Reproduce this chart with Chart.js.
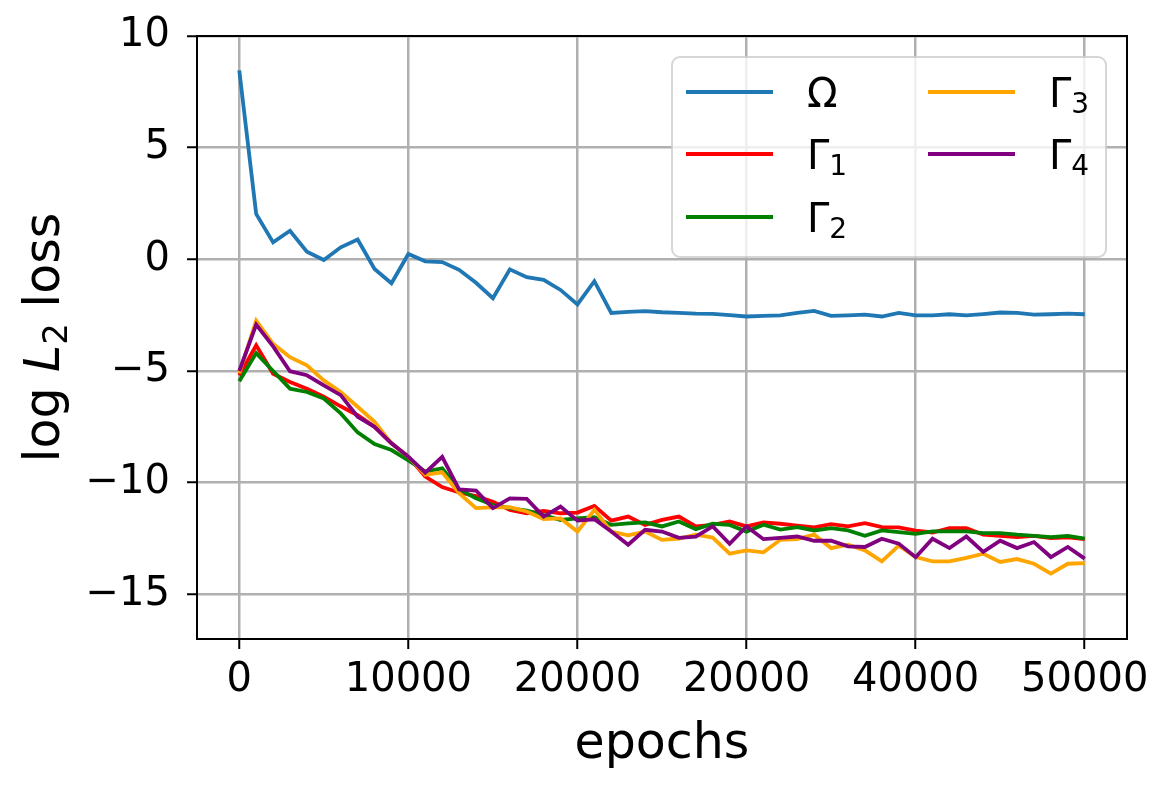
<!DOCTYPE html>
<html>
<head>
<meta charset="utf-8">
<script src="https://cdn.jsdelivr.net/npm/chart.js@4.4.1/dist/chart.umd.min.js"></script>
<style>
  html, body { margin: 0; padding: 0; background: #fff; }
  #wrap { width: 1170px; height: 786px; }
</style>
</head>
<body>
<div id="wrap"><canvas id="lossChart" width="1170" height="786"></canvas></div>
<script>
// ---- data ----
const epochs = [
  0, 1000, 2000, 3000, 4000, 5000, 6000, 7000, 8000, 9000,
  10000, 11000, 12000, 13000, 14000, 15000, 16000, 17000, 18000, 19000,
  20000, 21000, 22000, 23000, 24000, 25000, 26000, 27000, 28000, 29000,
  30000, 31000, 32000, 33000, 34000, 35000, 36000, 37000, 38000, 39000,
  40000, 41000, 42000, 43000, 44000, 45000, 46000, 47000, 48000, 49000,
  50000
];

const omegaLoss = [
  8.46, 2.03, 0.76, 1.28, 0.34, -0.03, 0.54, 0.89, -0.43, -1.07,
  0.24, -0.09, -0.12, -0.47, -1.05, -1.74, -0.45, -0.80, -0.92, -1.37,
  -2.02, -0.98, -2.40, -2.35, -2.32, -2.37, -2.40, -2.43, -2.44, -2.50,
  -2.56, -2.53, -2.51, -2.40, -2.31, -2.53, -2.51, -2.48, -2.56, -2.40,
  -2.51, -2.51, -2.46, -2.51, -2.45, -2.38, -2.40, -2.48, -2.46, -2.43,
  -2.46
];

const gamma1Loss = [
  -5.20, -3.85, -5.12, -5.49, -5.79, -6.15, -6.58, -6.98, -7.50, -8.24,
  -8.84, -9.73, -10.20, -10.44, -10.60, -10.85, -11.22, -11.37, -11.26, -11.37,
  -11.34, -11.04, -11.70, -11.52, -11.89, -11.67, -11.52, -11.96, -11.89, -11.74,
  -11.96, -11.78, -11.84, -11.92, -12.00, -11.86, -11.96, -11.81, -11.99, -12.00,
  -12.15, -12.23, -12.04, -12.04, -12.33, -12.38, -12.44, -12.38, -12.48, -12.45,
  -12.53
];

const gamma2Loss = [
  -5.46, -4.20, -5.00, -5.79, -5.94, -6.23, -6.90, -7.75, -8.27, -8.54,
  -9.00, -9.50, -9.36, -10.30, -10.70, -11.00, -11.14, -11.25, -11.45, -11.67,
  -11.60, -11.55, -11.89, -11.82, -11.78, -11.96, -11.74, -12.08, -11.84, -11.89,
  -12.19, -11.88, -12.10, -11.99, -12.14, -12.04, -12.14, -12.38, -12.14, -12.21,
  -12.29, -12.18, -12.18, -12.18, -12.26, -12.26, -12.33, -12.38, -12.44, -12.38,
  -12.51
];

const gamma3Loss = [
  -5.10, -2.74, -3.78, -4.38, -4.75, -5.42, -5.94, -6.60, -7.28, -8.24,
  -8.84, -9.65, -9.54, -10.47, -11.14, -11.10, -11.10, -11.29, -11.63, -11.60,
  -12.19, -11.22, -12.19, -12.36, -12.19, -12.56, -12.50, -12.33, -12.46, -13.18,
  -13.03, -13.12, -12.56, -12.53, -12.33, -12.93, -12.78, -13.03, -13.52, -12.82,
  -13.33, -13.52, -13.52, -13.37, -13.18, -13.55, -13.42, -13.63, -14.07, -13.63,
  -13.60
];

const gamma4Loss = [
  -5.00, -2.92, -3.90, -5.01, -5.19, -5.64, -6.08, -7.05, -7.50, -8.24,
  -8.84, -9.55, -8.84, -10.30, -10.35, -11.14, -10.70, -10.73, -11.52, -11.07,
  -11.70, -11.64, -12.19, -12.78, -12.11, -12.19, -12.47, -12.42, -11.96, -12.74,
  -11.96, -12.53, -12.47, -12.41, -12.60, -12.60, -12.85, -12.88, -12.51, -12.73,
  -13.34, -12.51, -12.93, -12.41, -13.10, -12.60, -12.93, -12.66, -13.33, -12.88,
  -13.40
];

const seriesLabels = ['Ω', 'Γ_1', 'Γ_2', 'Γ_3', 'Γ_4'];
const seriesColors = ['#1f77b4', '#ff0000', '#008000', '#ffa500', '#800080'];
const seriesValues = [omegaLoss, gamma1Loss, gamma2Loss, gamma3Loss, gamma4Loss];

const xTickValues = [0, 10000, 20000, 30000, 40000, 50000];
const xTickLabels = ['0', '10000', '20000', '20000', '40000', '50000'];
const yTickValues = [-15, -10, -5, 0, 5, 10];
const yTickLabels = ['\u221215', '\u221210', '\u22125', '0', '5', '10'];

const xAxisTitle = [{ t: 'epochs' }];
const yAxisTitle = [{ t: 'log ' }, { t: 'L', italic: true }, { t: '2', sub: true }, { t: ' loss' }];

// ---- helpers ----
const FAMILY = '"DejaVu Sans", sans-serif';

function fontFor(part, size){
  const s = part.sub ? Math.round(size * 0.7) : size;
  return (part.italic ? 'oblique ' : '') + s + 'px ' + FAMILY;
}

// "Γ_1" -> [{t:'Γ'},{t:'1',sub:true}]
function splitLabel(lbl){
  const i = lbl.indexOf('_');
  if (i < 0) return [{ t: lbl }];
  return [{ t: lbl.slice(0, i) }, { t: lbl.slice(i + 1), sub: true }];
}

function richWidth(ctx, parts, size){
  let w = 0;
  parts.forEach(p => { ctx.font = fontFor(p, size); w += ctx.measureText(p.t).width; });
  return w;
}

function drawRich(ctx, parts, size, x, y){
  let cx = x;
  parts.forEach(p => {
    ctx.font = fontFor(p, size);
    ctx.fillText(p.t, cx, y + (p.sub ? size * 0.16 : 0));
    cx += ctx.measureText(p.t).width;
  });
}

// frame, axis titles and a matplotlib-like legend
const decorPlugin = {
  id: 'decor',
  afterDatasetsDraw(chart){
    const ctx = chart.ctx;
    const a = chart.chartArea;
    ctx.save();
    ctx.strokeStyle = '#000';
    ctx.lineWidth = 2;
    ctx.strokeRect(a.left, a.top, a.right - a.left, a.bottom - a.top);
    ctx.restore();
  },
  afterDraw(chart){
    const ctx = chart.ctx;
    const a = chart.chartArea;
    ctx.save();
    ctx.fillStyle = '#000';
    ctx.textBaseline = 'alphabetic';

    // x title
    const xw = richWidth(ctx, xAxisTitle, 49);
    drawRich(ctx, xAxisTitle, 49, (a.left + a.right) / 2 - xw / 2, 758);

    // y title (rotated)
    const yw = richWidth(ctx, yAxisTitle, 49);
    ctx.save();
    ctx.translate(59, (a.top + a.bottom) / 2);
    ctx.rotate(-Math.PI / 2);
    drawRich(ctx, yAxisTitle, 49, -yw / 2, 0);
    ctx.restore();

    // legend box
    const bw = 434, bh = 200;
    const bx = a.right - 21 - bw, by = a.top + 21;
    ctx.beginPath();
    ctx.roundRect(bx, by, bw, bh, 8);
    ctx.fillStyle = 'rgba(255,255,255,0.8)';
    ctx.fill();
    ctx.strokeStyle = 'rgba(204,204,204,0.8)';
    ctx.lineWidth = 2;
    ctx.stroke();

    const rowsY = [35, 97, 160];
    const cols = [{ line: 14, text: 135 }, { line: 256, text: 377 }];
    seriesLabels.forEach((lbl, i) => {
      const col = cols[Math.floor(i / 3)];
      const ly = by + rowsY[i % 3];
      ctx.beginPath();
      ctx.moveTo(bx + col.line, ly);
      ctx.lineTo(bx + col.line + 87, ly);
      ctx.strokeStyle = seriesColors[i];
      ctx.lineWidth = 4;
      ctx.stroke();
      ctx.fillStyle = '#000';
      drawRich(ctx, splitLabel(lbl), 40, bx + col.text, ly + 15);
    });
    ctx.restore();
  }
};

// ---- chart ----
function createChart(){
  const canvas = document.getElementById('lossChart');
  const ctx = canvas.getContext('2d');

  const datasets = seriesValues.map((vals, i) => ({
    label: seriesLabels[i],
    data: epochs.map((e, k) => ({ x: e, y: vals[k] })),
    borderColor: seriesColors[i],
    backgroundColor: seriesColors[i],
    borderWidth: 3.8,
    pointRadius: 0,
    tension: 0,
    fill: false,
    order: seriesValues.length - i
  }));

  const tickFont = { family: FAMILY, size: 40 };

  return new Chart(ctx, {
    type: 'line',
    data: { datasets },
    options: {
      responsive: false,
      animation: false,
      devicePixelRatio: 1,
      layout: { padding: 0 },
      plugins: {
        legend: { display: false },
        tooltip: { enabled: false }
      },
      scales: {
        x: {
          type: 'linear',
          min: -2500,
          max: 52500,
          afterBuildTicks: s => { s.ticks = xTickValues.map(v => ({ value: v })); },
          afterFit: s => { s.height = 147; s.paddingLeft = 0; s.paddingRight = 43; },
          ticks: {
            autoSkip: false,
            maxRotation: 0,
            color: '#000',
            font: tickFont,
            padding: 8,
            callback: (v, i) => xTickLabels[i]
          },
          grid: {
            color: '#b0b0b0',
            lineWidth: 2.5,
            drawTicks: true,
            tickLength: 10,
            tickColor: '#000',
            tickWidth: 2
          },
          border: { display: false }
        },
        y: {
          type: 'linear',
          min: -17,
          max: 10,
          afterBuildTicks: s => { s.ticks = yTickValues.map(v => ({ value: v })); },
          afterFit: s => { s.width = 197; s.paddingTop = 36; s.paddingBottom = 0; },
          ticks: {
            autoSkip: false,
            color: '#000',
            font: tickFont,
            padding: 17,
            callback: (v, i) => yTickLabels[i]
          },
          grid: {
            color: '#b0b0b0',
            lineWidth: 2.5,
            drawTicks: true,
            tickLength: 10,
            tickColor: '#000',
            tickWidth: 2
          },
          border: { display: false }
        }
      }
    },
    plugins: [decorPlugin]
  });
}

createChart();
</script>
</body>
</html>
